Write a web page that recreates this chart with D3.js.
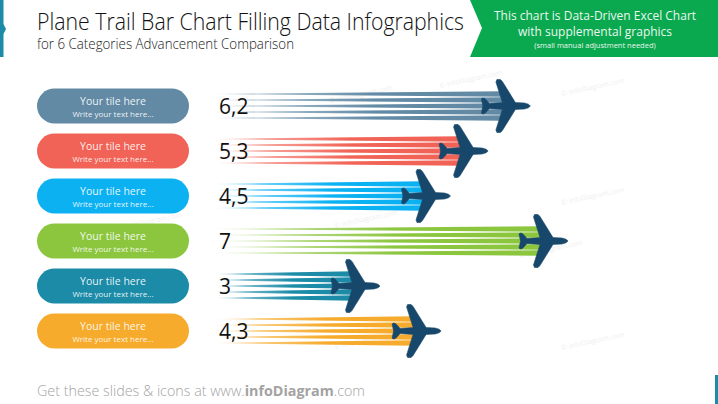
<!DOCTYPE html>
<html><head><meta charset="utf-8">
<script src="https://cdn.jsdelivr.net/npm/d3@7"></script>
<style>html,body{margin:0;padding:0;background:#fff;overflow:hidden}svg{display:block}text{font-family:"Open Sans",sans-serif}</style>
</head><body><svg id="c" width="718" height="404"></svg>
<script>
const categories=["Your tile here","Your tile here","Your tile here","Your tile here","Your tile here","Your tile here"];
const subLabels=["Write your text here...","Write your text here...","Write your text here...","Write your text here...","Write your text here...","Write your text here..."];
const values=[6.2,5.3,4.5,7,3,4.3];
const valueLabels=["6,2","5,3","4,5","7","3","4,3"];
const colors=["#628aa5","#f16356","#0cb1f2","#8cc63f","#1b8ba8","#f6ab2c"];
const streakOffsets=[-2,-1,0,1,2];
const watermarks=[[562,96],[330,103],[440,88],[562,205],[335,228],[520,258],[562,350],[335,349],[120,230],[100,350]];
const planeColor="#17486b";
const planeHalf=[[0,0],[-2,-1.8],[-6,-3],[-15,-3.4],[-28,-24.5],[-30,-26.5],[-33.5,-26.5],[-34.5,-24],[-28,-3.4],[-41,-2.6],[-45.5,-7.5],[-48,-8],[-49,-7],[-47.5,0]];

const svg=d3.select("#c");
const x=d3.scaleLinear().domain([0,7]).range([239,568]);
const y=d3.scalePoint().domain(d3.range(values.length)).range([106,331]);
const defs=svg.append("defs");

// side markers
svg.append("path").attr("d","M0,0H3.5V24L6,29L3.5,34V57H0Z").attr("fill","#1b8ba8");
svg.append("rect").attr("x",715).attr("y",375).attr("width",3).attr("height",29).attr("fill","#1b8ba8");

// title
svg.append("text").attr("x",37).attr("y",29.5).attr("font-size",24).attr("font-family","Lato,sans-serif").attr("font-weight",300).attr("fill","#111").attr("textLength",427).attr("lengthAdjust","spacingAndGlyphs").text("Plane Trail Bar Chart Filling Data Infographics");
svg.append("text").attr("x",37).attr("y",48.5).attr("font-size",14).attr("font-family","Lato,sans-serif").attr("font-weight",300).attr("fill","#222").attr("textLength",257).attr("lengthAdjust","spacingAndGlyphs").text("for 6 Categories Advancement Comparison");

// banner
svg.append("path").attr("d","M470,0H718V57H470L482,28Z").attr("fill","#0aa84f");
const bt=[["This chart is Data-Driven Excel Chart",19.5,12],["with supplemental graphics",35.5,12],["(small manual adjustment needed)",48,7.5]];
svg.selectAll(".bt").data(bt).join("text").attr("x",595).attr("y",d=>d[1]).attr("text-anchor","middle").attr("font-size",d=>d[2]).attr("fill","#e9f7ee").text(d=>d[0]);

// watermarks
svg.selectAll(".wm").data(watermarks).join("text").attr("transform",d=>`translate(${d[0]},${d[1]}) rotate(-12)`).attr("font-size",7).attr("fill","#efefef").text("© infoDiagram.com");

// pills
const rows=svg.selectAll(".row").data(values).join("g");
rows.append("rect").attr("x",37).attr("y",(d,i)=>y(i)-17.5).attr("width",152).attr("height",35).attr("rx",17.5).attr("fill",(d,i)=>colors[i]);
rows.append("text").attr("x",113).attr("y",(d,i)=>y(i)-1.5).attr("text-anchor","middle").attr("font-size",10.5).attr("fill","#fff").attr("fill-opacity",.9).text((d,i)=>categories[i]);
rows.append("text").attr("x",113).attr("y",(d,i)=>y(i)+10.5).attr("text-anchor","middle").attr("font-size",8).attr("fill","#fff").attr("fill-opacity",.9).text((d,i)=>subLabels[i]);

// trails
const x0=217, spacing=6;
const area=d3.area().x(d=>d[0]).y0(d=>d[1]).y1(d=>d[2]);
rows.each(function(v,i){
  const g=d3.select(this), end=x(v)-27, cy=y(i);
  const gid="g"+i;
  const gr=defs.append("linearGradient").attr("id",gid).attr("gradientUnits","userSpaceOnUse").attr("x1",x0).attr("x2",end).attr("y1",0).attr("y2",0);
  gr.append("stop").attr("offset",0).attr("stop-color",colors[i]).attr("stop-opacity",0.05);
  gr.append("stop").attr("offset",.2).attr("stop-color",colors[i]).attr("stop-opacity",.6);
  gr.append("stop").attr("offset",.55).attr("stop-color",colors[i]).attr("stop-opacity",1);
  gr.append("stop").attr("offset",1).attr("stop-color",colors[i]).attr("stop-opacity",1);
  streakOffsets.forEach(o=>{
    const c=cy+o*spacing;
    g.append("path").attr("fill",`url(#${gid})`).attr("d",area([[x0,c-.3,c+.3],[end,c-2.7,c+2.7]]));
  });
  g.append("text").attr("x",219).attr("y",cy+7.5).attr("font-size",21).attr("font-family","Lato,sans-serif").attr("fill","#111").text(valueLabels[i]);
  const pts=planeHalf.concat(planeHalf.slice(1,-1).reverse().map(p=>[p[0],-p[1]])).map(p=>[x(v)+p[0],cy+p[1]]);
  g.append("path").attr("d",d3.line().curve(d3.curveLinearClosed)(pts)).attr("fill",planeColor).attr("stroke",planeColor).attr("stroke-width",.6).attr("stroke-linejoin","round");
});

// footer
const f=svg.append("text").attr("x",37).attr("y",396).attr("font-size",15).attr("font-family","Lato,sans-serif").attr("font-weight",300).attr("fill","#a3a3a3").attr("textLength",328).attr("lengthAdjust","spacingAndGlyphs");
f.append("tspan").text("Get these slides & icons at www.");
f.append("tspan").attr("font-weight",700).text("infoDiagram");
f.append("tspan").text(".com");
</script></body></html>
